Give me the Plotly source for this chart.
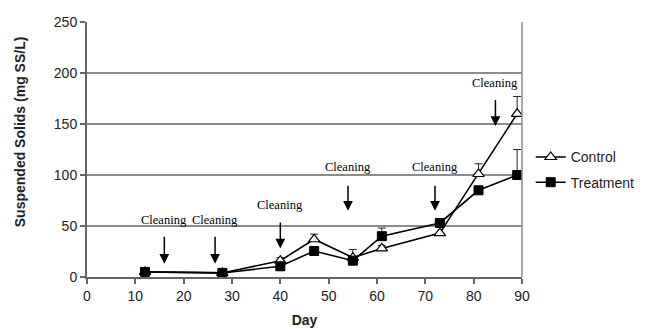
import plotly.graph_objects as go

# Sampling days and suspended solids (mg SS/L)
days = [12, 28, 40, 47, 55, 61, 73, 81, 89]
control = [5, 4, 16, 37, 19, 28, 43, 101, 160]
control_err = [0, 0, 3, 5, 8, 3, 0, 10, 17]
treatment = [5, 4, 10.5, 25.5, 16, 40, 53, 85, 100]
treatment_err = [0, 0, 0, 0, 0, 8, 0, 0, 25]

# Cleaning events: day, label height, arrow tail, arrow tip
cleaning_days = [16, 26.5, 40, 54, 72, 84.5]
label_y = [56, 56, 71, 108, 108, 190]
arrow_top = [41, 41, 55, 91, 91, 175]
arrow_tip = [13, 13, 28, 65, 65, 148]

AXIS_FONT = "Arial, Liberation Sans, sans-serif"
SERIF_FONT = "Times New Roman, Liberation Serif, serif"

fig = go.Figure()

fig.add_trace(go.Scatter(
    x=days, y=control, name="Control", mode="lines+markers",
    line=dict(color="black", width=1.6),
    marker=dict(symbol="triangle-up", size=10, color="white",
                line=dict(color="black", width=1.2)),
    error_y=dict(type="data", array=control_err, symmetric=False,
                 arrayminus=[0] * len(days), color="#222", thickness=1, width=4),
    legendgroup="c",
))
fig.add_trace(go.Scatter(
    x=days, y=treatment, name="Treatment", mode="lines+markers",
    line=dict(color="black", width=1.6),
    marker=dict(symbol="square", size=9, color="black",
                line=dict(color="black", width=1)),
    error_y=dict(type="data", array=treatment_err, symmetric=False,
                 arrayminus=[0] * len(days), color="#222", thickness=1, width=4),
    legendgroup="t",
))

for d, ly, at, tip in zip(cleaning_days, label_y, arrow_top, arrow_tip):
    fig.add_annotation(x=d, y=ly, text="Cleaning", showarrow=False,
                       font=dict(family=SERIF_FONT, size=12.5, color="black"))
    fig.add_annotation(x=d, y=tip, ax=d, ay=at, axref="x", ayref="y",
                       text="", showarrow=True, arrowhead=2, arrowsize=1.3,
                       arrowwidth=1.5, arrowcolor="black")

# Right-hand border of the plot box
fig.add_shape(type="line", xref="paper", yref="paper", x0=1, x1=1, y0=0, y1=1,
              line=dict(color="#8c8c8c", width=1.5))

# Y-axis title
fig.add_annotation(xref="paper", yref="paper", x=-0.155, y=0.57,
                   xanchor="center", yanchor="middle",
                   text="<b>Suspended Solids (mg SS/L)</b>", textangle=-90,
                   showarrow=False,
                   font=dict(family=AXIS_FONT, size=14, color="#222"))

fig.update_layout(
    width=648, height=329,
    margin=dict(l=87, r=126, t=22, b=52, autoexpand=False),
    paper_bgcolor="white", plot_bgcolor="white",
    font=dict(family=AXIS_FONT, size=14, color="#222"),
    showlegend=True,
    legend=dict(x=1.02, y=0.42, xanchor="left", yanchor="middle",
                font=dict(family=AXIS_FONT, size=14, color="#222"),
                tracegroupgap=4, bgcolor="rgba(0,0,0,0)"),
    xaxis=dict(range=[0, 90], tickvals=list(range(0, 91, 10)),
               showgrid=False, zeroline=False, automargin=False,
               showline=True, linecolor="#666", linewidth=2,
               ticks="outside", ticklen=5, tickcolor="#666", tickwidth=1.5,
               title=dict(text="<b>Day</b>", standoff=12,
                          font=dict(family=AXIS_FONT, size=14, color="#222"))),
    yaxis=dict(range=[0, 250], tickvals=list(range(0, 251, 50)),
               showgrid=True, gridcolor="#8c8c8c", gridwidth=1.5,
               zeroline=False, automargin=False,
               showline=True, linecolor="#666", linewidth=2,
               ticks="outside", ticklen=5, tickcolor="#666", tickwidth=1.5),
)

fig.write_html("out.html")
